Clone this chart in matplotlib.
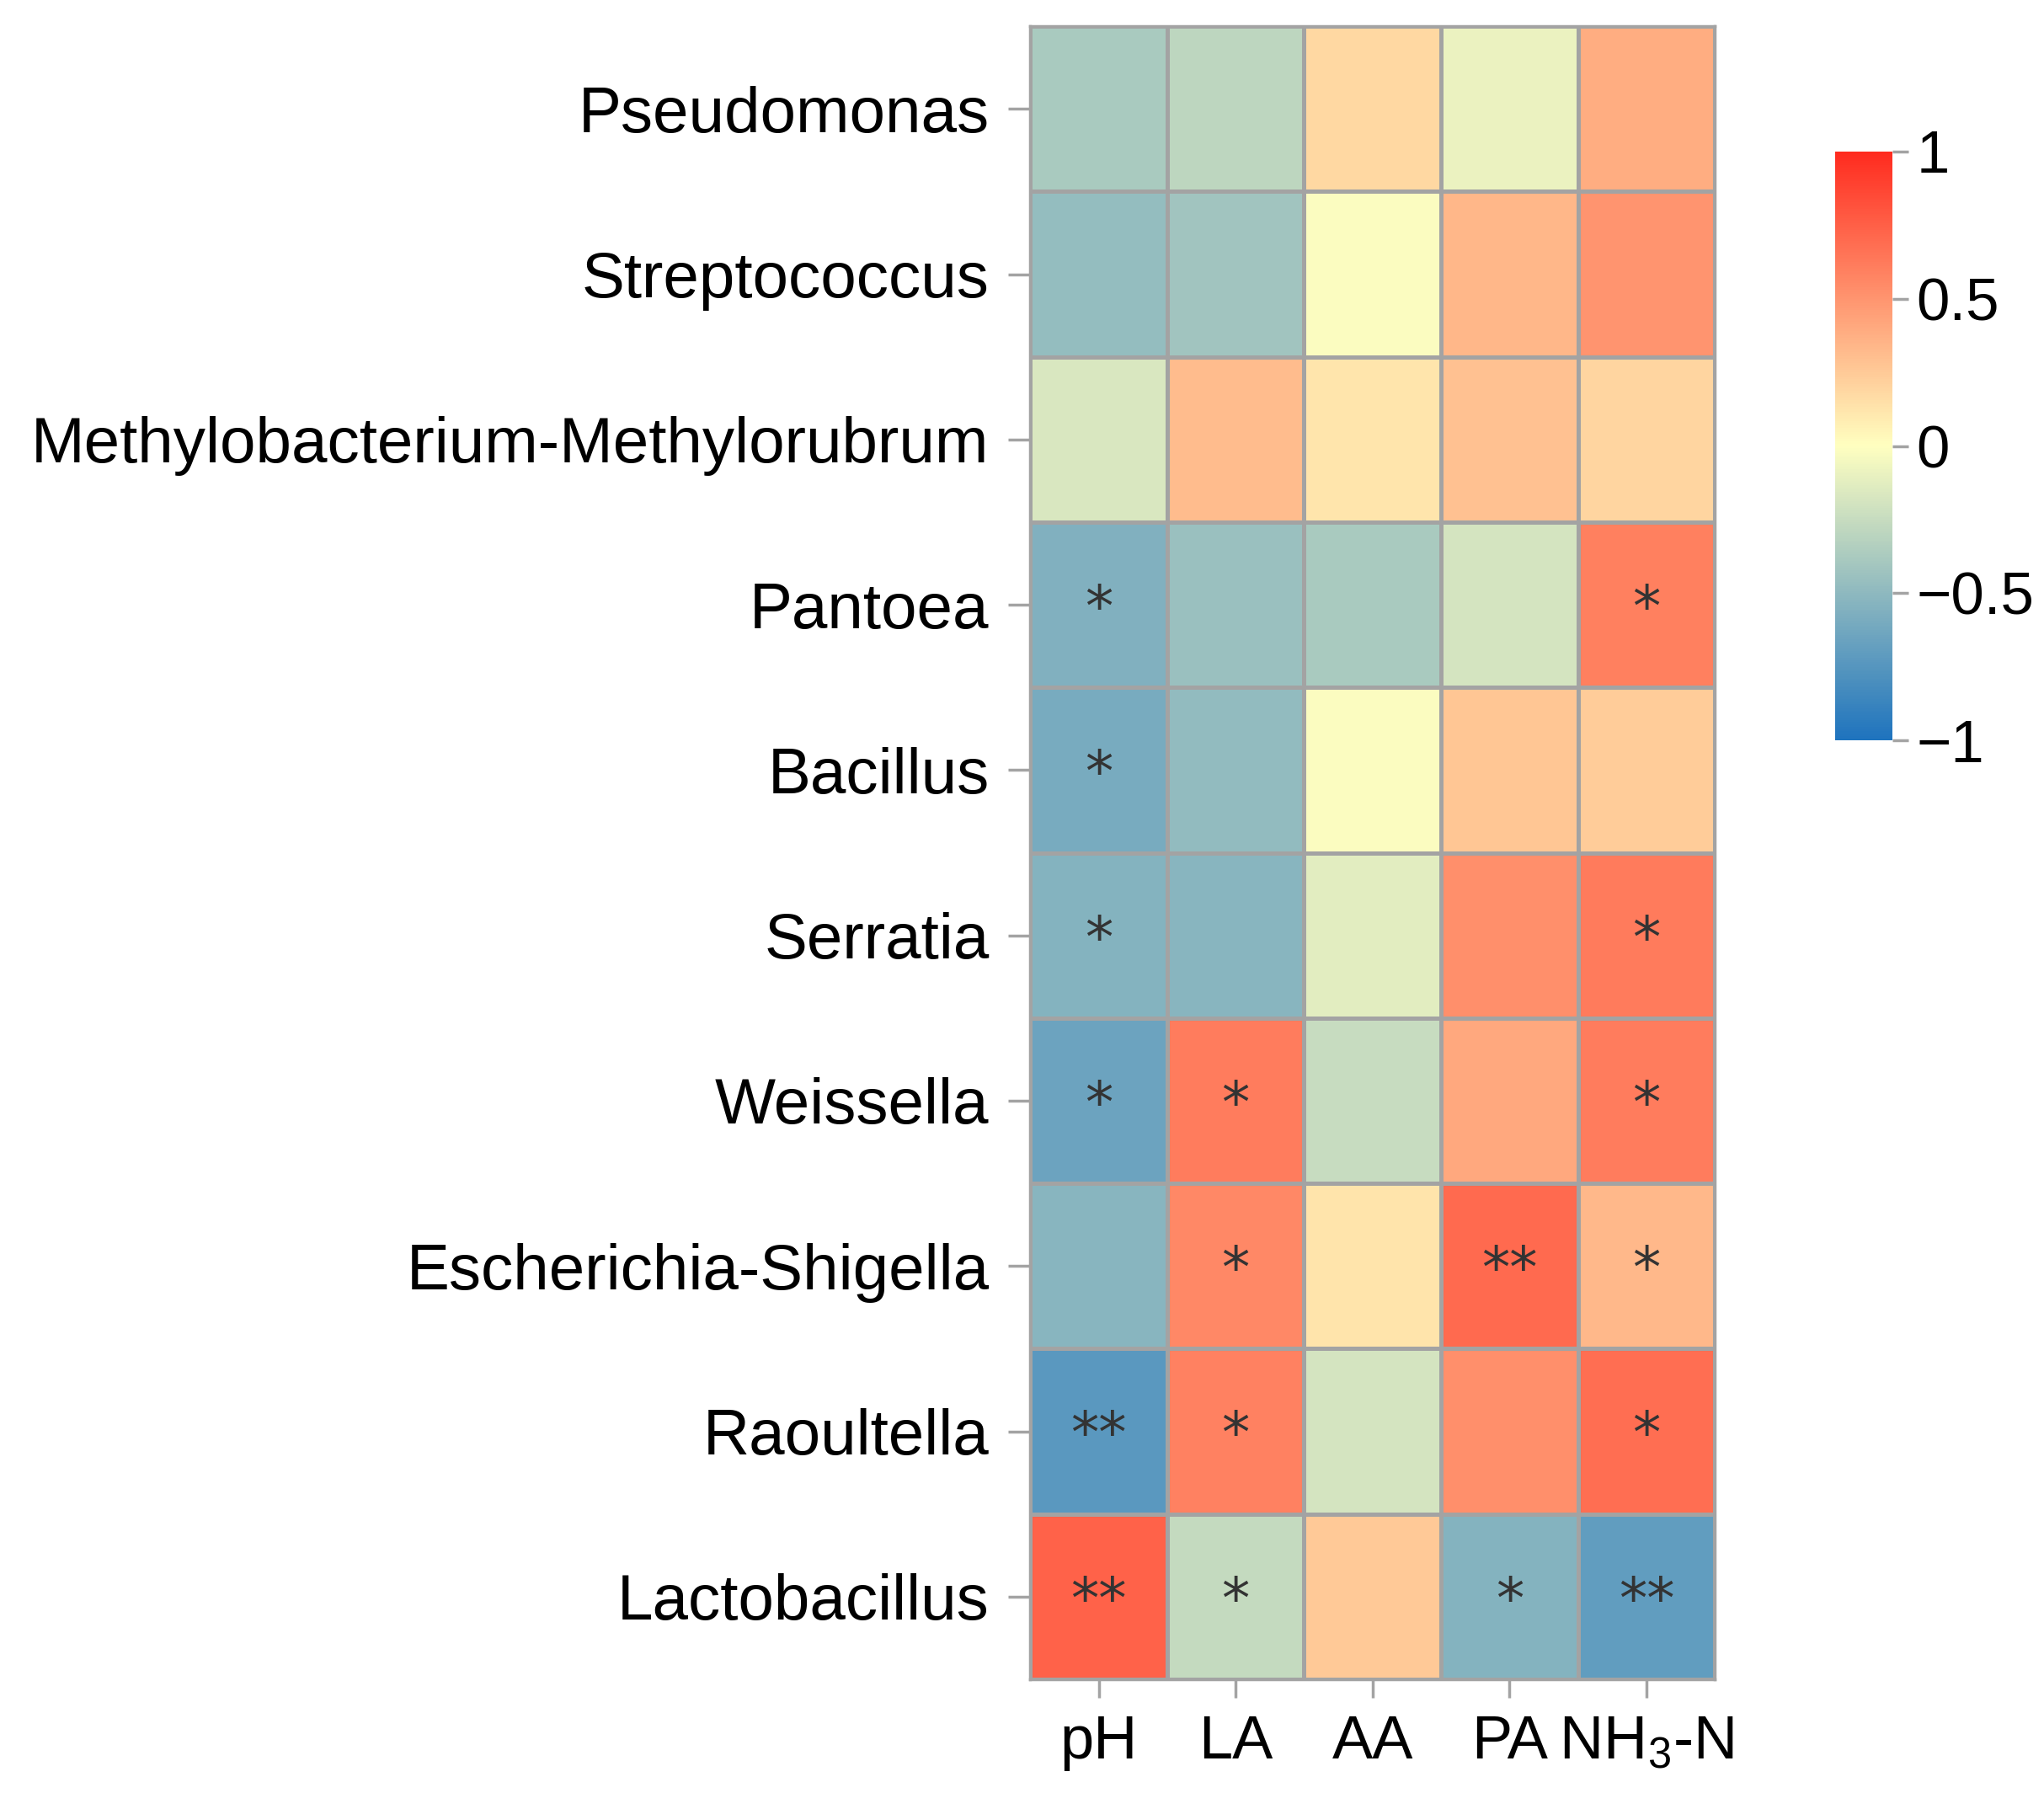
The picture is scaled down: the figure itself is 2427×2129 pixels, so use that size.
import numpy as np
import matplotlib
matplotlib.use("Agg")
import matplotlib.pyplot as plt
from matplotlib.colors import LinearSegmentedColormap

genera = ["Pseudomonas", "Streptococcus", "Methylobacterium-Methylorubrum", "Pantoea",
          "Bacillus", "Serratia", "Weissella", "Escherichia-Shigella", "Raoultella",
          "Lactobacillus"]
variables = ["pH", "LA", "AA", "PA", "NH$_3$-N"]

corr_pH  = [-0.38, -0.47, -0.17, -0.56, -0.60, -0.54, -0.65, -0.53, -0.73,  0.74]
corr_LA  = [-0.29, -0.42,  0.32, -0.45, -0.48, -0.53,  0.61,  0.56,  0.59, -0.26]
corr_AA  = [ 0.18, -0.02,  0.12, -0.38, -0.02, -0.13, -0.25,  0.13, -0.19,  0.25]
corr_PA  = [-0.09,  0.34,  0.29, -0.19,  0.27,  0.53,  0.41,  0.70,  0.53, -0.54]
corr_NH3 = [ 0.39,  0.50,  0.20,  0.60,  0.24,  0.62,  0.61,  0.33,  0.68, -0.70]

sig_pH  = ["", "", "", "*", "*", "*", "*", "", "**", "**"]
sig_LA  = ["", "", "", "", "", "", "*", "*", "*", "*"]
sig_AA  = ["", "", "", "", "", "", "", "", "", ""]
sig_PA  = ["", "", "", "", "", "", "", "**", "", "*"]
sig_NH3 = ["", "", "", "*", "", "*", "*", "*", "*", "**"]

cbar_ticks = [-1, -0.5, 0, 0.5, 1]
cbar_labels = ["\u22121", "\u22120.5", "0", "0.5", "1"]

plt.rcParams['font.family'] = ['Liberation Sans', 'DejaVu Sans']
plt.rcParams['mathtext.fontset'] = 'custom'
plt.rcParams['mathtext.rm'] = 'Liberation Sans'
plt.rcParams['mathtext.it'] = 'Liberation Sans'
plt.rcParams['mathtext.default'] = 'rm'

data = np.array([corr_pH, corr_LA, corr_AA, corr_PA, corr_NH3]).T
sig = np.array([sig_pH, sig_LA, sig_AA, sig_PA, sig_NH3]).T

cmap = LinearSegmentedColormap.from_list("bgr", ["#1E73BE", "#FFFFC0", "#FF2B1F"], N=256)

fig = plt.figure(figsize=(24.27, 21.29), dpi=100)
ax = fig.add_axes([0.504, 0.0634, 0.335, 0.922])
nrow, ncol = data.shape
mesh = ax.pcolormesh(np.arange(ncol + 1), np.arange(nrow + 1), data, cmap=cmap,
                     vmin=-1, vmax=1, edgecolors="#A3A3A3", linewidth=2.5)
ax.set_xlim(0, ncol)
ax.set_ylim(nrow, 0)
for i in range(nrow):
    for j in range(ncol):
        if sig[i, j]:
            ax.text(j + 0.5, i + 0.53, sig[i, j], ha="center", va="center",
                    fontsize=48, color="#333333", family="DejaVu Sans")
ax.set_xticks(np.arange(ncol) + 0.5)
ax.set_xticklabels(variables, fontsize=52)
ax.set_yticks(np.arange(nrow) + 0.5)
ax.set_yticklabels(genera, fontsize=55)
ax.tick_params(axis="y", color="#A3A3A3", width=2.5, length=19, pad=16)
ax.tick_params(axis="x", color="#A3A3A3", width=2.5, length=16, pad=14)
for s in ax.spines.values():
    s.set_color("#A3A3A3")
    s.set_linewidth(2.5)

cax = fig.add_axes([0.898, 0.587, 0.028, 0.3285])
cb = fig.colorbar(mesh, cax=cax, ticks=cbar_ticks)
cb.outline.set_visible(False)
cb.ax.set_yticklabels(cbar_labels)
cb.ax.tick_params(labelsize=51, color="#A3A3A3", width=2.5, length=14, pad=6)

fig.savefig("out.png", dpi=100, facecolor="white")
